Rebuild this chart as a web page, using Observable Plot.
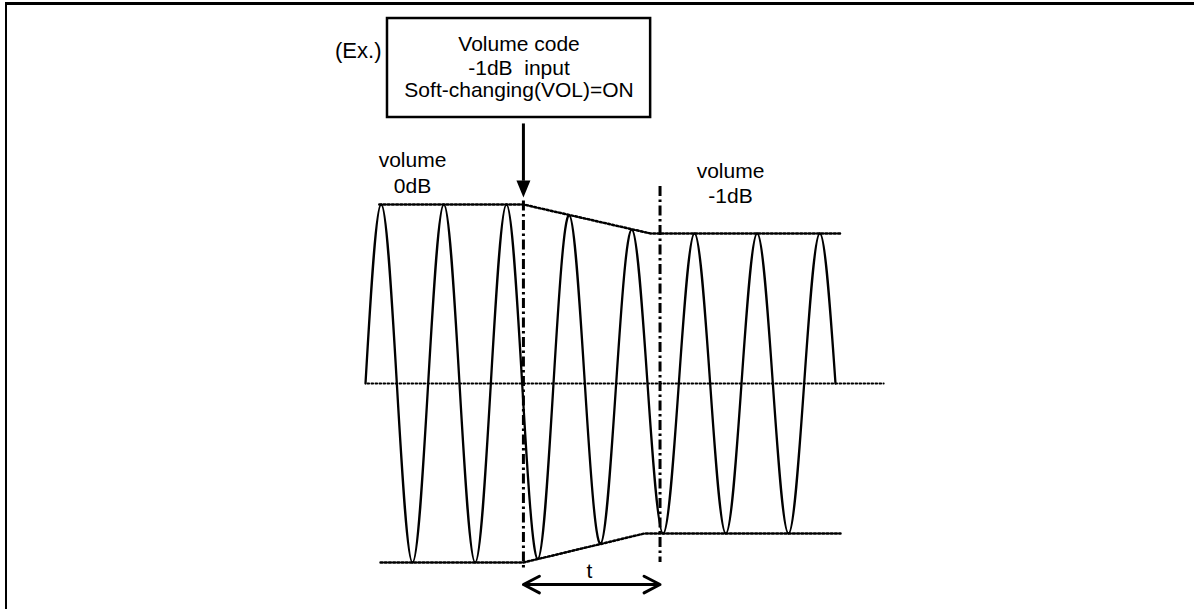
<!DOCTYPE html>
<html><head><meta charset="utf-8">
<script src="https://cdn.jsdelivr.net/npm/d3@7"></script>
<script src="https://cdn.jsdelivr.net/npm/@observablehq/plot@0.6"></script>
<style>
html,body{margin:0;padding:0;background:#fff;}
#wrap{position:relative;width:1194px;height:609px;overflow:hidden;}
#frame{position:absolute;left:5px;top:2px;right:-10px;bottom:-10px;border-top:3px solid #000;border-left:2px solid #000;pointer-events:none;}
svg text{white-space:pre;}
</style></head><body><div id="wrap"><div id="frame"></div></div>
<script>
// ---- data (time in signal cycles, amplitude relative to 0dB level) ----
const crossT = [0, 0.5, 1, 1.5, 2, 2.5, 3, 3.5, 4, 4.5, 5, 5.5, 6, 6.5, 7, 7.5];
const peakT = [0.25, 1.25, 2.25, 3.25, 4.25, 5.25, 6.25, 7.25];
const peakA = [1, 1, 1, 0.94, 0.86, 0.838, 0.838, 0.838];
const troughT = [0.75, 1.75, 2.75, 3.75, 4.75, 5.75, 6.75];
const troughA = [-1, -1, -0.98, -0.895, -0.838, -0.838, -0.838];

const envTopT = [0.22, 2.52, 4.55, 7.58];
const envTopA = [1, 1, 0.838, 0.838];
const envBotT = [0.24, 2.52, 4.45, 7.58];
const envBotA = [-1, -1, -0.838, -0.838];
const midT = [0.03, 8.27];

const markerT = [2.52, 4.7];
const markerTop = [1.02, 1.10];
const markerBottom = [-1.05, -1.0];

const boxX = [0.351, 4.55];
const boxY = [1.486, 2.039];
const boxLines = ["Volume code", "-1dB  input", "Soft-changing(VOL)=ON"];
const boxLineA = [1.894, 1.760, 1.637];
const boxTextT = 2.45;

const exLabel = "(Ex.)";
const exPos = [0.255, 1.86];

const levelLabels = ["volume", "0dB", "volume", "-1dB"];
const levelLabelT = [0.75, 0.75, 5.824, 5.824];
const levelLabelA = [1.246, 1.101, 1.184, 1.045];

const inputArrowA = [1.45, 1.13, 1.039]; // shaft top, shaft bottom, tip
const tLabel = "t";
const tLabelPos = [3.574, -1.05];
const tArrowA = -1.123;

// ---- build tables ----
const wave = [
  ...crossT.map(t => ({t, a: 0})),
  ...peakT.map((t, i) => ({t, a: peakA[i]})),
  ...troughT.map((t, i) => ({t, a: troughA[i]}))
].sort((p, q) => p.t - q.t);
const envTop = envTopT.map((t, i) => ({t, a: envTopA[i]}));
const envBot = envBotT.map((t, i) => ({t, a: envBotA[i]}));
const mid = midT.map(t => ({t, a: 0}));
const markers = markerT.map((t, i) => ({t, y1: markerTop[i], y2: markerBottom[i]}));
const boxRows = boxLines.map((s, i) => ({s, t: boxTextT, a: boxLineA[i]}));
const levels = levelLabels.map((s, i) => ({s, t: levelLabelT[i], a: levelLabelA[i]}));
const tMid = (markerT[0] + markerT[1]) / 2;
const tArrows = [{x1: tMid, x2: markerT[0]}, {x1: tMid, x2: markerT[1]}];

const headSymbol = {draw(ctx) { ctx.moveTo(-7, -17); ctx.lineTo(7, -17); ctx.lineTo(0, 0); ctx.closePath(); }};

const font = "Liberation Sans, Arial, sans-serif";
const dotted = {stroke: "black", strokeWidth: 2.5, strokeDasharray: "2,2.2"};

const chart = Plot.plot({
  width: 1194, height: 609,
  marginTop: 0, marginRight: 0, marginBottom: 0, marginLeft: 0,
  x: {domain: [0, 7.5], range: [365, 835], axis: null},
  y: {domain: [-1, 1], range: [562, 204], axis: null},
  style: {background: "white", fontFamily: font},
  marks: [
    Plot.line(mid, {x: "t", y: "a", stroke: "black", strokeWidth: 1.8, strokeDasharray: "1.8,2.2"}),
    Plot.line(envTop, {x: "t", y: "a", ...dotted}),
    Plot.line(envBot, {x: "t", y: "a", ...dotted}),
    Plot.ruleX(markers, {x: "t", y1: "y1", y2: "y2", stroke: "black", strokeWidth: 3, strokeDasharray: "10,3.5,2.5,3.5"}),
    Plot.line(wave, {x: "t", y: "a", curve: "natural", stroke: "black", strokeWidth: 2.3}),
    Plot.rect([{x1: boxX[0], x2: boxX[1], y1: boxY[0], y2: boxY[1]}], {x1: "x1", x2: "x2", y1: "y1", y2: "y2", fill: "white", stroke: "black", strokeWidth: 2.5}),
    Plot.text(boxRows, {x: "t", y: "a", text: "s", fontSize: 21, fill: "black"}),
    Plot.text([exLabel], {x: () => exPos[0], y: () => exPos[1], text: d => d, textAnchor: "end", fontSize: 22, fill: "black"}),
    Plot.text(levels, {x: "t", y: "a", text: "s", fontSize: 21, fill: "black"}),
    Plot.ruleX([markerT[0]], {x: d => d, y1: inputArrowA[0], y2: inputArrowA[1], stroke: "black", strokeWidth: 3}),
    Plot.dot([markerT[0]], {x: d => d, y: inputArrowA[2], symbol: headSymbol, fill: "black", stroke: "none", r: 5}),
    Plot.arrow(tArrows, {x1: "x1", x2: "x2", y1: tArrowA, y2: tArrowA, stroke: "black", strokeWidth: 3, headLength: 9, headAngle: 55}),
    Plot.text([tLabel], {x: () => tLabelPos[0], y: () => tLabelPos[1], text: d => d, fontSize: 21, fill: "black"})
  ]
});
document.getElementById("wrap").prepend(chart);
</script></body></html>
